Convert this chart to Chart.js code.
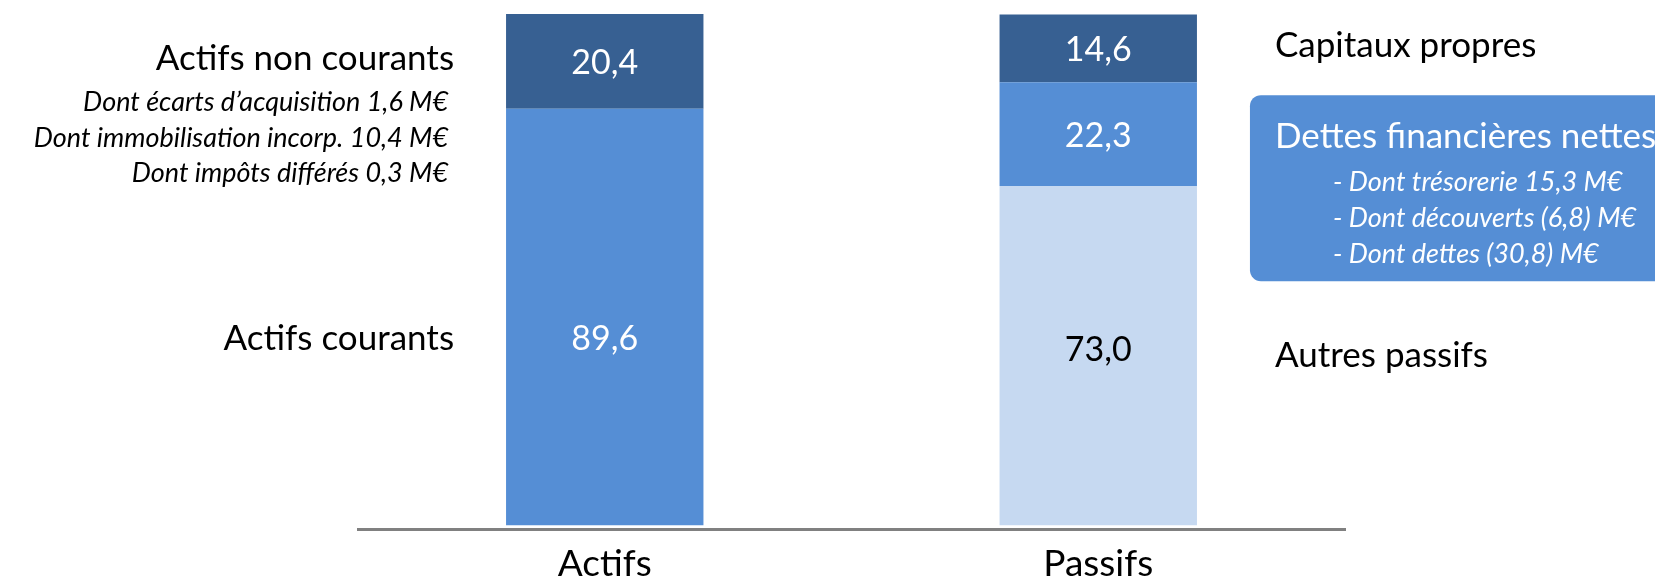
<!DOCTYPE html>
<html><head><meta charset="utf-8">
<script src="https://cdn.jsdelivr.net/npm/chart.js@4/dist/chart.umd.min.js"></script>
<style>html,body{margin:0;padding:0;background:#fff;overflow:hidden}</style>
</head><body>
<canvas id="c" width="1655" height="586"></canvas>
<script>
// ---- data ----
const categories = ['Actifs', 'Passifs'];
const bottomValues = [89.6, 73.0];
const middleValues = [null, 22.3];
const topValues = [20.4, 14.6];
const bottomNames = ['Actifs courants', 'Autres passifs'];
const middleNames = [null, 'Dettes financières nettes'];
const topNames = ['Actifs non courants', 'Capitaux propres'];
const actifsDetails = ['Dont écarts d’acquisition 1,6 M€', 'Dont immobilisation incorp. 10,4 M€', 'Dont impôts différés 0,3 M€'];
const dettesDetails = ['- Dont trésorerie 15,3 M€', '- Dont découverts (6,8) M€', '- Dont dettes (30,8) M€'];

// ---- styles ----
const DARK = '#376092', MID = '#558ED5', LIGHT = '#C6D9F1';
const FONT = 'Lato';
const fmt = v => v.toFixed(1).replace('.', ',');

const annotPlugin = {
  id: 'annot',
  afterDatasetsDraw(chart) {
    const ctx = chart.ctx;
    const metas = [0, 1, 2].map(i => chart.getDatasetMeta(i));
    const seg = (d, i) => { const el = metas[d].data[i]; return {x: el.x, w: el.width, cy: (el.y + el.base) / 2}; };
    ctx.save();
    // box behind "Dettes financières nettes"
    const m = seg(1, 1);
    const right1 = m.x + m.w / 2;
    ctx.fillStyle = MID;
    ctx.beginPath();
    ctx.roundRect(right1 + 53, m.cy - 39, 500, 186, 11);
    ctx.fill();

    // value labels inside bars
    const valueDy = [[22, -6], [2, 2], [2, 2]];
    ctx.textAlign = 'center'; ctx.textBaseline = 'middle';
    ctx.font = `34px ${FONT}`;
    const dsVals = [bottomValues, middleValues, topValues];
    for (let d = 0; d < 3; d++) {
      for (let i = 0; i < 2; i++) {
        const v = dsVals[d][i];
        if (v == null) continue;
        const s = seg(d, i);
        ctx.fillStyle = (d === 0 && i === 1) ? '#000' : '#fff';
        ctx.fillText(fmt(v), s.x, s.cy + valueDy[d][i]);
      }
    }

    // left-side names (Actifs)
    const a0 = seg(0, 0), a2 = seg(2, 0);
    const leftX = a0.x - a0.w / 2 - 52;
    ctx.textAlign = 'right'; ctx.fillStyle = '#000';
    ctx.font = `35px ${FONT}`;
    ctx.fillText(topNames[0], leftX, a2.cy - 3);
    ctx.fillText(bottomNames[0], leftX, a0.cy + 22);
    ctx.font = `italic 27px ${FONT}`;
    actifsDetails.forEach((t, k) => ctx.fillText(t, leftX - 6, a2.cy - 3 + 44 + k * 35.5));

    // right-side names (Passifs)
    const p0 = seg(0, 1), p2 = seg(2, 1);
    const rightX = p0.x + p0.w / 2 + 78;
    ctx.textAlign = 'left';
    ctx.font = `35px ${FONT}`;
    ctx.fillStyle = '#000';
    ctx.fillText(topNames[1], rightX, p2.cy - 3);
    ctx.fillText(bottomNames[1], rightX, p0.cy);
    ctx.fillStyle = '#fff';
    ctx.fillText(middleNames[1], rightX, m.cy + 3);
    ctx.font = `italic 27px ${FONT}`;
    dettesDetails.forEach((t, k) => ctx.fillText(t, rightX + 58, m.cy + 48 + k * 36));
    ctx.restore();
  }
};

new Chart(document.getElementById('c'), {
  type: 'bar',
  data: {
    labels: categories,
    datasets: [
      {data: bottomValues, backgroundColor: [MID, LIGHT]},
      {data: middleValues, backgroundColor: [MID, MID]},
      {data: topValues, backgroundColor: [DARK, DARK]}
    ]
  },
  options: {
    responsive: false,
    devicePixelRatio: 1,
    animation: false,
    categoryPercentage: 1,
    barPercentage: 0.4,
    layout: {padding: {left: 358, right: 310, top: 14, bottom: 0}},
    plugins: {legend: {display: false}, tooltip: {enabled: false}},
    scales: {
      x: {
        stacked: true,
        grid: {display: false},
        border: {display: true, color: '#808080', width: 3},
        ticks: {color: '#000', font: {family: FONT, size: 37}, padding: 5},
        afterFit: s => { s.height = 57; }
      },
      y: {stacked: true, display: false, min: -0.8, max: 110}
    }
  },
  plugins: [annotPlugin]
});
</script>
</body></html>
